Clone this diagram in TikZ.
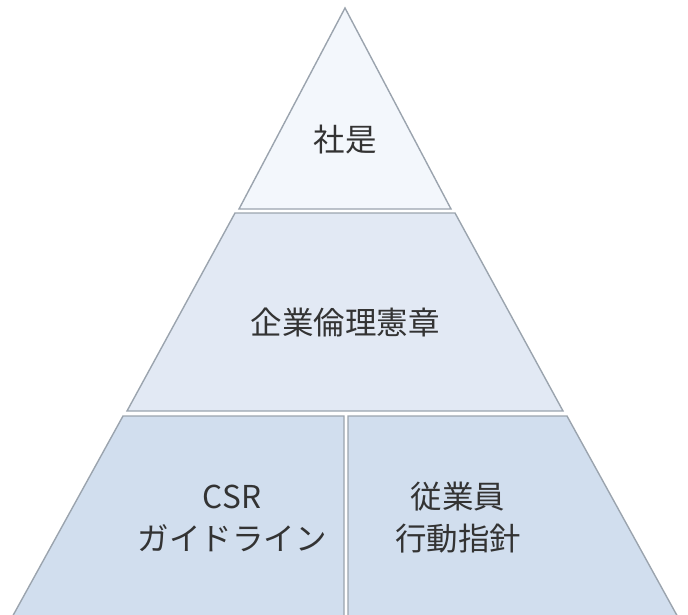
\documentclass[tikz,border=0pt]{standalone}
\usepackage{fontspec}
\setmainfont{Noto Sans CJK JP}
\definecolor{lvA}{HTML}{F3F7FC}
\definecolor{lvB}{HTML}{E2E9F4}
\definecolor{lvC}{HTML}{D1DEEE}
\definecolor{edgec}{HTML}{9BA4AE}
\tikzset{
  tier/.style={draw=edgec, line width=1.4pt, line join=miter},
  lbl/.style={font=\fontsize{31.5}{42}\selectfont, text=black!80, align=center, inner sep=0pt}
}
\begin{document}
\begin{tikzpicture}[x=1pt,y=-1pt]
\useasboundingbox (0,0) rectangle (688,614);
\clip (0,0) rectangle (688,614);
% top triangle
\draw[tier, fill=lvA] (345,8) -- (451,209) -- (239,209) -- cycle;
% middle trapezoid
\draw[tier, fill=lvB] (235,213) -- (455,213) -- (563,411) -- (127,411) -- cycle;
% bottom left
\draw[tier, fill=lvC] (123,416) -- (344,416) -- (344,630) -- (5,630) -- cycle;
% bottom right
\draw[tier, fill=lvC] (348,416) -- (567,416) -- (685,630) -- (348,630) -- cycle;
\node[lbl] (t1) at (345,140) {社是};
\node[lbl] (t2) at (345,322) {企業倫理憲章};
\node[lbl] (t3) at (232,518) {CSR\\ガイドライン};
\node[lbl] (t4) at (458,518) {従業員\\行動指針};
\end{tikzpicture}
\end{document}
